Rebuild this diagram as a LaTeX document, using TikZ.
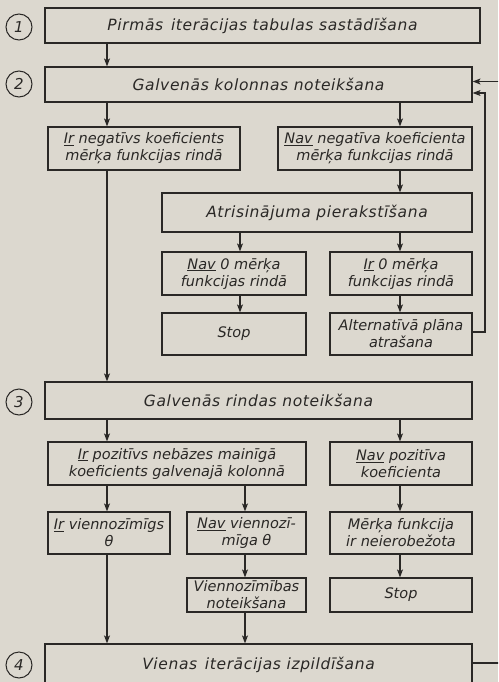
\documentclass[tikz,border=0pt]{standalone}
\usepackage{fontspec}
\setmainfont{DejaVu Sans}
\usetikzlibrary{arrows.meta,calc}
\definecolor{paper}{HTML}{DCD8CF}
\definecolor{ink}{HTML}{2A2826}
\begin{document}
\begin{tikzpicture}[x=1pt,y=-1pt,
  box/.style={draw=ink,line width=1.2pt,inner sep=0pt,align=center,font=\fontsize{14.5}{17}\selectfont\itshape,text=ink},
  title/.style={box,font=\fontsize{15.5}{17}\selectfont\itshape\addfontfeature{LetterSpace=4}},
  num/.style={draw=ink,line width=1pt,circle,minimum size=26pt,inner sep=0pt,font=\fontsize{15}{17}\selectfont\itshape,text=ink},
  arr/.style={draw=ink,line width=1.1pt,-{Stealth[length=8pt,width=6pt,inset=2pt]}}]
\useasboundingbox (0,0) rectangle (498,682);
\fill[paper] (0,0) rectangle (498,682);
\clip (0,0) rectangle (498,682);
% x positions of connectors
\coordinate (xa) at (107,0);
\coordinate (xb) at (240,0);
\coordinate (xc) at (245,0);
\coordinate (xd) at (400,0);
\coordinate (xr) at (485,0);
\coordinate (xo) at (520,0);
% numbers
\node[num] (c1) at (19,27) {1};
\node[num] (c2) at (19,84) {2};
\node[num] (c3) at (19,402) {3};
\node[num] (c4) at (19,665) {4};
% boxes
\node[title,minimum width=435pt,minimum height=35pt] (b1) at (262.5,25.5) {Pirmās\enspace iterācijas tabulas sastādīšana};
\node[title,minimum width=427pt,minimum height=35pt] (b2) at (258.5,84.5) {Galvenās kolonnas noteikšana};
\node[box,minimum width=192pt,minimum height=43pt] (irneg) at (144,148.5) {\underline{Ir} negatīvs koeficients\\mērķa funkcijas rindā};
\node[box,minimum width=194pt,minimum height=43pt] (navneg) at (375,148.5) {\underline{Nav} negatīva koeficienta\\mērķa funkcijas rindā};
\node[title,minimum width=310pt,minimum height=39pt] (atr) at (317,212.5) {Atrisinājuma pierakstīšana};
\node[box,minimum width=144pt,minimum height=43pt] (nav0) at (234,273.5) {\underline{Nav} 0 mērķa\\funkcijas rindā};
\node[box,minimum width=142pt,minimum height=43pt] (ir0) at (401,273.5) {\underline{Ir} 0 mērķa\\funkcijas rindā};
\node[box,minimum width=144pt,minimum height=42pt] (stop1) at (234,334) {Stop};
\node[box,minimum width=142pt,minimum height=42pt] (alt) at (401,334) {Alternatīvā plāna\\atrašana};
\node[title,minimum width=427pt,minimum height=37pt] (b3) at (258.5,400.5) {Galvenās rindas noteikšana};
\node[box,minimum width=258pt,minimum height=43pt] (irpoz) at (177,463.5) {\underline{Ir} pozitīvs nebāzes mainīgā\\koeficients galvenajā kolonnā};
\node[box,minimum width=142pt,minimum height=43pt] (navpoz) at (401,463.5) {\underline{Nav} pozitīva\\koeficienta};
\node[box,minimum width=122pt,minimum height=42pt] (irv) at (109,533) {\underline{Ir} viennozīmīgs\\θ};
\node[box,minimum width=119pt,minimum height=42pt] (navv) at (246.5,533) {\underline{Nav} viennozī-\\mīga θ};
\node[box,minimum width=142pt,minimum height=42pt] (merk) at (401,533) {Mērķa funkcija\\ir neierobežota};
\node[box,minimum width=119pt,minimum height=34pt] (vien) at (246.5,595) {Viennozīmības\\noteikšana};
\node[box,minimum width=142pt,minimum height=34pt] (stop2) at (401,595) {Stop};
\node[title,minimum width=427pt,minimum height=42pt] (b4) at (258.5,665) {Vienas\enspace iterācijas izpildīšana};
% connectors
\draw[arr] (b1.south -| xa) -- (b2.north -| xa);
\draw[arr] (b2.south -| xa) -- (irneg.north -| xa);
\draw[arr] (b2.south -| xd) -- (navneg.north -| xd);
\draw[arr] (irneg.south -| xa) -- (b3.north -| xa);
\draw[arr] (navneg.south -| xd) -- (atr.north -| xd);
\draw[arr] (atr.south -| xb) -- (nav0.north -| xb);
\draw[arr] (atr.south -| xd) -- (ir0.north -| xd);
\draw[arr] (nav0.south -| xb) -- (stop1.north -| xb);
\draw[arr] (ir0.south -| xd) -- (alt.north -| xd);
\coordinate (altout) at ($(alt.east)+(0,-2)$);
\coordinate (in2a) at ($(b2.east)+(0,-3)$);
\coordinate (in2b) at ($(b2.east)+(0,8.5)$);
\draw[arr] (altout) -| (xr |- in2b) -- (in2b);
\draw[arr] (b3.south -| xa) -- (irpoz.north -| xa);
\draw[arr] (b3.south -| xd) -- (navpoz.north -| xd);
\draw[arr] (irpoz.south -| xa) -- (irv.north -| xa);
\draw[arr] (irpoz.south -| xc) -- (navv.north -| xc);
\draw[arr] (navpoz.south -| xd) -- (merk.north -| xd);
\draw[arr] (irv.south -| xa) -- (b4.north -| xa);
\draw[arr] (navv.south -| xc) -- (vien.north -| xc);
\draw[arr] (vien.south -| xc) -- (b4.north -| xc);
\draw[arr] (merk.south -| xd) -- (stop2.north -| xd);
\coordinate (out4) at ($(b4.east)+(0,-2)$);
\draw[arr] (out4) -- (xo |- out4) -- (xo |- in2a) -- (in2a);
\end{tikzpicture}
\end{document}
